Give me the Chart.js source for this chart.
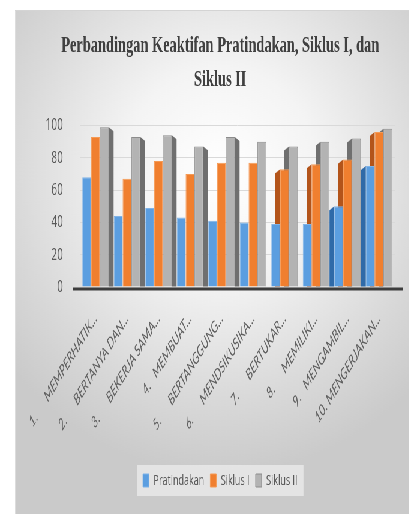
<!DOCTYPE html>
<html>
<head>
<meta charset="utf-8">
<script src="https://cdn.jsdelivr.net/npm/chart.js@4.4.1/dist/chart.umd.min.js"></script>
<style>
  html, body { margin: 0; padding: 0; background: #fff; overflow: hidden; }
  #box {
    position: absolute; left: 15px; top: 10px;
    width: 657px; height: 504px;
    transform: scaleX(0.6); transform-origin: 0 0;
    background: radial-gradient(ellipse 70% 60% at 52% 32%, #ffffff 0%, #f4f4f4 35%, #d9d9d9 75%, #cacaca 100%);
    border-top: 1px solid #d4d4d4; border-left: 1px solid #d4d4d4;
  }
</style>
</head>
<body>
<div id="box"><canvas id="chart"></canvas></div>
<script>
const categories = [
  '1.      MEMPERHATIK...',
  '2.      BERTANYA DAN...',
  '3.      BEKERJA SAMA...',
  '4.   MEMBUAT...',
  '5.      BERTANGGUNG...',
  '6.      MENDSIKUSIKA...',
  '7.      BERTUKAR...',
  '8.      MEMILIKI...',
  '9.   MENGAMBIL...',
  '10. MENGERJAKAN...'
];
const pratindakan = [68, 44, 49, 43, 41, 40, 39, 39, 50, 75];
const siklus1 = [93, 67, 78, 70, 77, 77, 73, 76, 79, 96];
const siklus2 = [99, 93, 94, 87, 93, 90, 87, 90, 92, 98];
const yTicks = [0, 20, 40, 60, 80, 100];

const darkColors = ['#2f6aa8', '#b3541a', '#6f6f6f'];

// side faces so the bars look a bit like the 3D ones in excel
const faces = {
  id: 'faces',
  beforeDatasetsDraw(chart) {
    const ctx = chart.ctx;
    chart.data.datasets.forEach((ds, di) => {
      const meta = chart.getDatasetMeta(di);
      meta.data.forEach((el, i) => {
        let show = (i >= 6 && di > 0) || (i >= 8 && di === 0);
        if (!show) return;
        const left = el.x - el.width / 2;
        const d = 8, dy = 4;
        ctx.save();
        ctx.fillStyle = darkColors[di];
        ctx.beginPath();
        ctx.moveTo(left, el.y);
        ctx.lineTo(left - d, el.y + dy);
        ctx.lineTo(left - d, el.base);
        ctx.lineTo(left, el.base);
        ctx.closePath();
        ctx.fill();
        ctx.restore();
      });
    });
  },
  afterDatasetsDraw(chart) {
    const ctx = chart.ctx;
    const meta = chart.getDatasetMeta(2);
    meta.data.forEach((el, i) => {
      if (i > 4) return;
      const right = el.x + el.width / 2;
      const d = 8, dy = 4;
      ctx.save();
      ctx.fillStyle = darkColors[2];
      ctx.beginPath();
      ctx.moveTo(right, el.y);
      ctx.lineTo(right + d, el.y + dy);
      ctx.lineTo(right + d, el.base);
      ctx.lineTo(right, el.base);
      ctx.closePath();
      ctx.fill();
      ctx.restore();
    });
    // thick floor line under the bars
    const y0 = chart.scales.y.getPixelForValue(0);
    ctx.save();
    ctx.strokeStyle = '#3d3d3d';
    ctx.lineWidth = 3;
    ctx.beginPath();
    ctx.moveTo(chart.chartArea.left - 12, y0 + 2);
    ctx.lineTo(chart.chartArea.right + 14, y0 + 2);
    ctx.stroke();
    ctx.restore();
  },
  beforeDraw(chart) {
    const lg = chart.legend;
    if (!lg || !lg.legendHitBoxes.length) return;
    const hb = lg.legendHitBoxes;
    const x1 = hb[0].left - 10;
    const x2 = hb[hb.length - 1].left + hb[hb.length - 1].width + 10;
    const ctx = chart.ctx;
    ctx.save();
    ctx.fillStyle = 'rgba(245,245,245,0.6)';
    ctx.fillRect(x1, hb[0].top - 8, x2 - x1, hb[0].height + 16);
    ctx.restore();
  }
};

new Chart(document.getElementById('chart'), {
  type: 'bar',
  data: {
    labels: categories,
    datasets: [{
      label: 'Pratindakan',
      data: pratindakan,
      backgroundColor: '#5b9ee0',
      borderColor: '#7fb3e8',
      borderWidth: 1
    }, {
      label: 'Siklus I',
      data: siklus1,
      backgroundColor: '#f07f2f',
      borderColor: '#f59a55',
      borderWidth: 1
    }, {
      label: 'Siklus II',
      data: siklus2,
      backgroundColor: '#b3b3b3',
      borderColor: '#8c8c8c',
      borderWidth: 1
    }]
  },
  options: {
    responsive: true,
    maintainAspectRatio: false,
    animation: false,
    categoryPercentage: 0.84,
    barPercentage: 1,
    layout: {
      padding: { left: 50, right: 25, top: 0, bottom: 17 }
    },
    plugins: {
      title: {
        display: true,
        text: ['Perbandingan Keaktifan Pratindakan, Siklus I, dan', 'Siklus II'],
        color: '#404040',
        font: { family: 'Liberation Serif', size: 24, weight: 'bold', lineHeight: 1.45 },
        padding: { top: 17, bottom: 28 }
      },
      legend: {
        position: 'bottom',
        labels: {
          color: '#595959',
          font: { family: 'Open Sans', size: 15 },
          boxWidth: 10,
          boxHeight: 13,
          padding: 10
        }
      },
      tooltip: { enabled: false }
    },
    scales: {
      x: {
        grid: { display: false },
        border: { display: false },
        afterFit(scale) {
          scale.height = 176;
        },
        ticks: {
          color: '#606060',
          font: { family: 'Lato', size: 16, style: 'italic' },
          maxRotation: 45,
          minRotation: 45,
          autoSkip: false,
          padding: 14
        }
      },
      y: {
        min: 0,
        max: 100,
        afterBuildTicks(scale) {
          scale.ticks = yTicks.map(v => ({ value: v }));
        },
        afterFit(scale) {
          scale.width = 57;
        },
        grid: { color: '#d9d9d9', drawTicks: false },
        border: { display: false },
        ticks: {
          color: '#595959',
          font: { family: 'Open Sans', size: 17 },
          padding: 28
        }
      }
    }
  },
  plugins: [faces]
});
</script>
</body>
</html>
